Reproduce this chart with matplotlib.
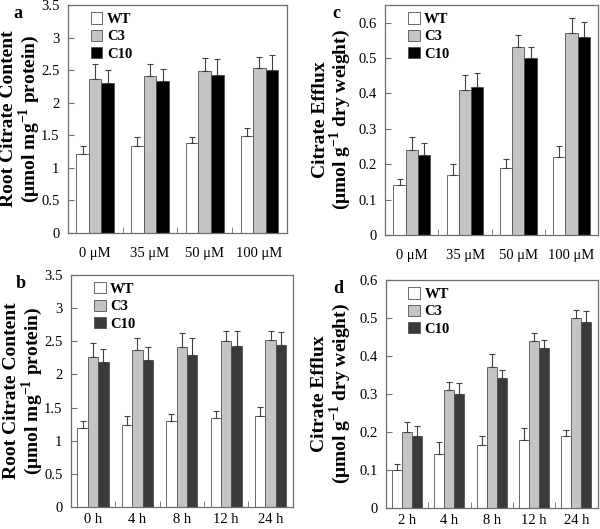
import matplotlib.pyplot as plt
import numpy as np
from matplotlib.patches import Patch

plt.rcParams['font.family'] = ['Liberation Serif', 'DejaVu Serif']
plt.rcParams['mathtext.fontset'] = 'custom'
plt.rcParams['mathtext.rm'] = 'Liberation Serif'
plt.rcParams['mathtext.bf'] = 'Liberation Serif:bold'

# данные
conc_labels = ['0 \u03bcM', '35 \u03bcM', '50 \u03bcM', '100 \u03bcM']
time_labels = ['0 h', '4 h', '8 h', '12 h', '24 h']
time_labels_d = ['2 h', '4 h', '8 h', '12 h', '24 h']
series_names = ['WT', 'C3', 'C10']

# a - root citrate vs concentration
a_wt = [1.22, 1.34, 1.38, 1.49]
a_c3 = [2.37, 2.41, 2.48, 2.53]
a_c10 = [2.30, 2.33, 2.43, 2.50]
a_wt_err = [0.12, 0.14, 0.10, 0.12]
a_c3_err = [0.22, 0.19, 0.20, 0.17]
a_c10_err = [0.20, 0.19, 0.24, 0.24]

# c - citrate efflux vs concentration
c_wt = [0.14, 0.17, 0.19, 0.22]
c_c3 = [0.24, 0.41, 0.53, 0.57]
c_c10 = [0.225, 0.418, 0.50, 0.56]
c_wt_err = [0.017, 0.030, 0.025, 0.030]
c_c3_err = [0.038, 0.042, 0.035, 0.042]
c_c10_err = [0.035, 0.040, 0.030, 0.043]

# b - root citrate vs time
b_wt = [1.19, 1.23, 1.29, 1.34, 1.37]
b_c3 = [2.26, 2.37, 2.42, 2.50, 2.52]
b_c10 = [2.19, 2.22, 2.30, 2.43, 2.44]
b_wt_err = [0.11, 0.14, 0.11, 0.11, 0.14]
b_c3_err = [0.22, 0.18, 0.20, 0.16, 0.13]
b_c10_err = [0.19, 0.19, 0.25, 0.23, 0.20]

# d - citrate efflux vs time
d_wt = [0.10, 0.143, 0.167, 0.18, 0.19]
d_c3 = [0.20, 0.31, 0.37, 0.44, 0.50]
d_c10 = [0.19, 0.30, 0.342, 0.42, 0.49]
d_wt_err = [0.017, 0.030, 0.023, 0.030, 0.015]
d_c3_err = [0.027, 0.022, 0.035, 0.020, 0.020]
d_c10_err = [0.025, 0.028, 0.020, 0.022, 0.028]

spine_col = '#6e6e6e'
light = '#c4c4c4'
FIG_W = 600


def panel(ax, cats, vals, errs, dark, ymax, ystep, ylab, letter,
          width=0.235, xpad=5, lab_off=(-59, -39)):
    n = len(cats)
    x = np.arange(n)
    colors = ['white', light, dark]
    for i, (v, e) in enumerate(zip(vals, errs)):
        ax.bar(x + (i - 1) * width, v, width, color=colors[i],
               edgecolor='#505050', linewidth=0.6, zorder=2)
        ax.errorbar(x + (i - 1) * width, v, yerr=[np.zeros(n), e], fmt='none',
                    ecolor='#404040', elinewidth=0.8, capsize=2.5,
                    capthick=0.8, zorder=3)
    ax.set_xlim(-0.5, n - 0.5)
    ax.set_ylim(0, ymax)
    ax.set_xticks(x)
    ax.set_xticklabels(cats, fontsize=10.5)
    ax.set_xticks(np.arange(n - 1) + 0.5, minor=True)
    ax.tick_params(axis='x', which='major', length=0, pad=xpad)
    ax.tick_params(axis='x', which='minor', direction='in', length=4,
                   color=spine_col)
    yt = np.arange(0, ymax + 1e-9, ystep)
    ax.set_yticks(yt)
    ax.set_yticklabels(['%g' % t for t in yt], fontsize=10.5)
    ax.tick_params(axis='y', direction='in', length=4, color=spine_col, pad=6)
    for s in ax.spines.values():
        s.set_color(spine_col)
        s.set_linewidth(0.9)
    # подпись оси Y - две строки отдельно
    ax_w = ax.get_position().width * FIG_W
    for line, off in zip(ylab, lab_off):
        ax.text(off / ax_w, 0.5, line, transform=ax.transAxes, rotation=90,
                ha='center', va='center', fontsize=14, fontweight='bold')
    handles = [Patch(facecolor=c, edgecolor='#505050', linewidth=0.6)
               for c in colors]
    ax.legend(handles, series_names, loc='upper left',
              bbox_to_anchor=(0.045, 1.025), frameon=False,
              prop={'weight': 'bold', 'size': 10.5}, handlelength=0.8,
              handleheight=0.8, handletextpad=0.3, labelspacing=0.25)
    ax.text(-0.25, 1.0, letter, transform=ax.transAxes, fontsize=13,
            fontweight='bold', va='top')


fig = plt.figure(figsize=(6.0, 5.29), dpi=100)
ax_a = fig.add_axes([0.113, 0.5595, 0.365, 0.431])
ax_c = fig.add_axes([0.642, 0.556, 0.355, 0.4345])
ax_b = fig.add_axes([0.118, 0.0416, 0.370, 0.4386])
ax_d = fig.add_axes([0.643, 0.0397, 0.353, 0.431])

root_lab = ['Root Citrate Content', '(\u03bcmol mg$^{\\mathbf{-1}}$ protein)']
eff_lab = ['Citrate Efflux', '(\u03bcmol g$^{\\mathbf{-1}}$ dry weight)']

panel(ax_a, conc_labels, [a_wt, a_c3, a_c10], [a_wt_err, a_c3_err, a_c10_err],
      'black', 3.5, 0.5, root_lab, 'a', width=0.23, xpad=10,
      lab_off=(-59, -39))
panel(ax_c, conc_labels, [c_wt, c_c3, c_c10], [c_wt_err, c_c3_err, c_c10_err],
      'black', 0.65, 0.1, eff_lab, 'c', width=0.23, xpad=10,
      lab_off=(-65, -45))
panel(ax_b, time_labels, [b_wt, b_c3, b_c10], [b_wt_err, b_c3_err, b_c10_err],
      '#3a3a3a', 3.5, 0.5, root_lab, 'b', xpad=4, lab_off=(-59, -39))
panel(ax_d, time_labels_d, [d_wt, d_c3, d_c10], [d_wt_err, d_c3_err, d_c10_err],
      '#3a3a3a', 0.6, 0.1, eff_lab, 'd', xpad=4, lab_off=(-66, -46))

fig.savefig('out.png', dpi=100)
